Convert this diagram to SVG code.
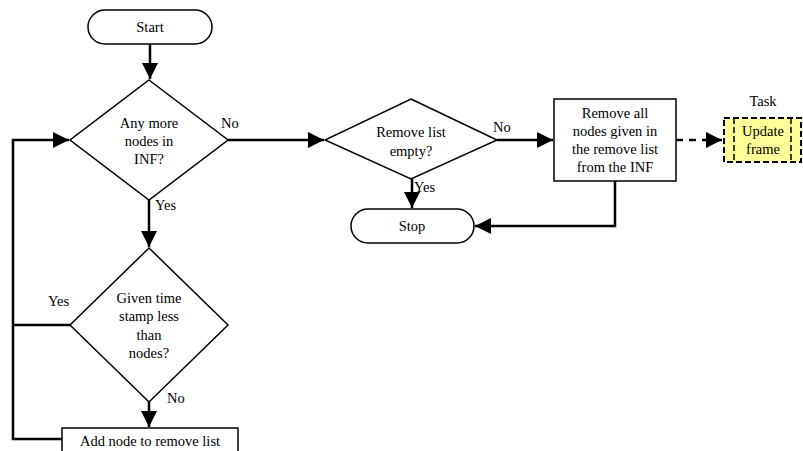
<svg xmlns="http://www.w3.org/2000/svg" width="803" height="451" viewBox="0 0 803 451" font-family="'Liberation Serif', 'Times New Roman', 'DejaVu Serif', serif">
<style>
.s{fill:#fff;stroke:#000;stroke-width:1.5}
.t{font-size:14.5px;fill:#000;text-anchor:middle}
.l{font-size:14.5px;fill:#000}
.c{fill:none;stroke:#000;stroke-width:2.5}
.d{stroke-dasharray:7,6}
</style>
<defs>
<marker id="ah" viewBox="0 0 10 10" refX="10" refY="5" markerWidth="16" markerHeight="16" markerUnits="userSpaceOnUse" orient="auto">
<path d="M0,0 L10,5 L0,10 Z" fill="#000"/>
</marker>
</defs>
<rect width="803" height="451" fill="#fff"/>
<g id="connectors">
<path class="c" d="M150,44 V79" marker-end="url(#ah)"/>
<path class="c" d="M228,140 H324" marker-end="url(#ah)"/>
<path class="c" d="M497,140 H553" marker-end="url(#ah)"/>
<path class="c d" d="M676,140 H722" marker-end="url(#ah)"/>
<path class="c" d="M412,179 V208" marker-end="url(#ah)"/>
<path class="c" d="M615,181 V226 H475" marker-end="url(#ah)"/>
<path class="c" d="M149,200 V247" marker-end="url(#ah)"/>
<path class="c" d="M149,402 V427" marker-end="url(#ah)"/>
<path class="c" d="M70,325 H13"/>
<path class="c" d="M62,439 H13 V140 H69" marker-end="url(#ah)"/>
<text class="l" x="221" y="128">No</text>
<text class="l" x="493" y="132">No</text>
<text class="l" x="414" y="192">Yes</text>
<text class="l" x="155" y="210">Yes</text>
<text class="l" x="48" y="306">Yes</text>
<text class="l" x="167" y="403">No</text>
</g>
<g id="start">
<rect class="s" x="88" y="10" width="124" height="34" rx="17"/>
<text class="t" x="150" y="32">Start</text>
</g>
<g id="dec1">
<polygon class="s" points="149,80 228,140 149,200 70,140"/>
<text class="t" x="149" y="128">Any more</text>
<text class="t" x="149" y="146">nodes in</text>
<text class="t" x="149" y="164">INF?</text>
</g>
<g id="dec2">
<polygon class="s" points="411,99 497,140 411,179 325,140"/>
<text class="t" x="411" y="137">Remove list</text>
<text class="t" x="411" y="156">empty?</text>
</g>
<g id="removeall">
<rect class="s" x="554" y="99" width="122" height="82"/>
<text class="t" x="615" y="118">Remove all</text>
<text class="t" x="615" y="136">nodes given in</text>
<text class="t" x="615" y="154">the remove list</text>
<text class="t" x="615" y="172">from the INF</text>
</g>
<g id="task">
<text class="t" x="763" y="106">Task</text>
<rect x="724" y="118" width="77" height="44" fill="#ffff99" stroke="#000" stroke-width="2" stroke-dasharray="6,3"/>
<path d="M734,118 V162 M791,118 V162" stroke="#000" stroke-width="1.5" stroke-dasharray="6,3" fill="none"/>
<text class="t" x="763" y="136">Update</text>
<text class="t" x="763" y="154">frame</text>
</g>
<g id="stop">
<rect class="s" x="351" y="209" width="123" height="34" rx="17"/>
<text class="t" x="412" y="231">Stop</text>
</g>
<g id="dec3">
<polygon class="s" points="149,248 228,325 149,402 70,325"/>
<text class="t" x="149" y="303">Given time</text>
<text class="t" x="149" y="321">stamp less</text>
<text class="t" x="149" y="340">than</text>
<text class="t" x="149" y="358">nodes?</text>
</g>
<g id="addnode">
<rect class="s" x="62" y="428" width="176" height="26"/>
<text class="t" x="150" y="446">Add node to remove list</text>
</g>
</svg>
